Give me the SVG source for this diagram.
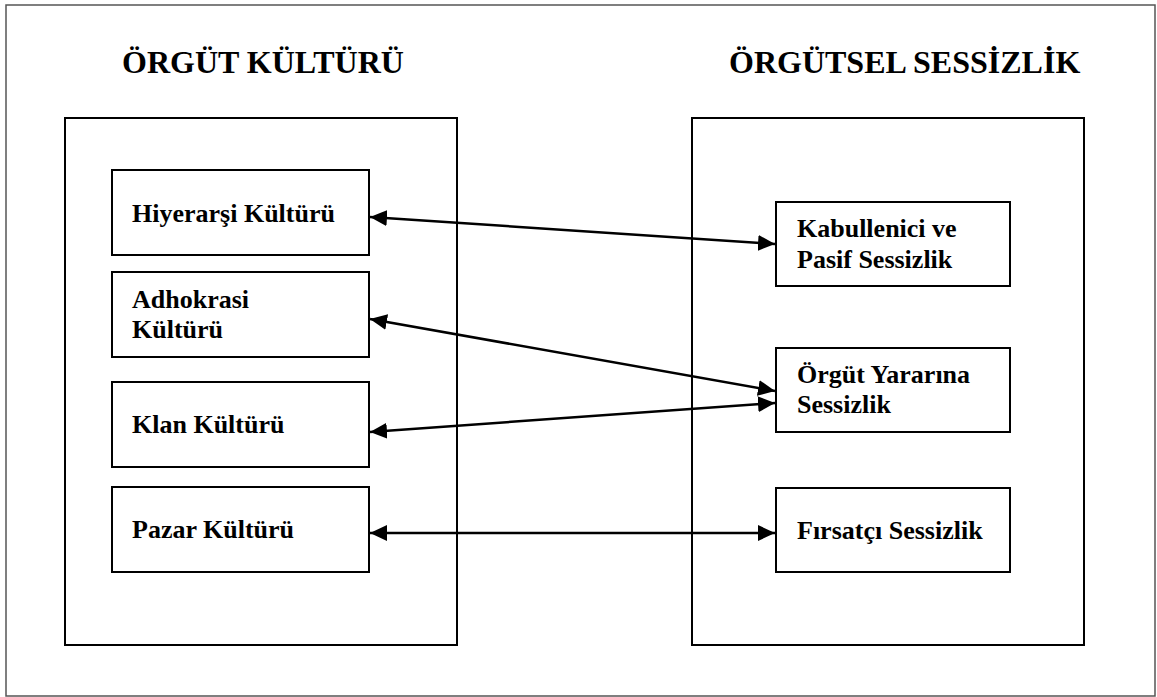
<svg xmlns="http://www.w3.org/2000/svg" width="1157" height="697" viewBox="0 0 1157 697">
  <style>
    .frame { fill: #ffffff; stroke: #555555; stroke-width: 1.5; }
    .box { fill: #ffffff; stroke: #000000; stroke-width: 2; }
    .title { font-family: "Liberation Serif", "Times New Roman", serif; font-weight: bold; font-size: 32px; fill: #000000; }
    .label { font-family: "Liberation Serif", "Times New Roman", serif; font-weight: bold; font-size: 26px; fill: #000000; }
    .link { fill: none; stroke: #000000; stroke-width: 2.5; marker-start: url(#head); marker-end: url(#head); }
  </style>
  <defs>
    <marker id="head" viewBox="0 0 17 16" refX="17" refY="8" markerWidth="17" markerHeight="16" markerUnits="userSpaceOnUse" orient="auto-start-reverse">
      <path d="M0,0 L17,8 L0,16 Z" fill="#000000"/>
    </marker>
  </defs>

  <!-- outer page frame -->
  <rect class="frame" x="6" y="5" width="1149" height="691"/>

  <!-- left column: organisational culture -->
  <g id="culture">
    <text class="title" x="122" y="73">ÖRGÜT KÜLTÜRÜ</text>
    <rect class="box" x="65" y="118" width="392" height="527"/>
  </g>
  <g id="hiyerarsi">
    <rect class="box" x="112" y="170" width="257" height="85"/>
    <text class="label" x="132" y="222">Hiyerarşi Kültürü</text>
  </g>
  <g id="adhokrasi">
    <rect class="box" x="112" y="272" width="257" height="85"/>
    <text class="label" x="132" y="308">Adhokrasi</text>
    <text class="label" x="132" y="338">Kültürü</text>
  </g>
  <g id="klan">
    <rect class="box" x="112" y="382" width="257" height="85"/>
    <text class="label" x="132" y="433">Klan Kültürü</text>
  </g>
  <g id="pazar">
    <rect class="box" x="112" y="487" width="257" height="85"/>
    <text class="label" x="132" y="538">Pazar Kültürü</text>
  </g>

  <!-- right column: organisational silence -->
  <g id="silence">
    <text class="title" x="729" y="73">ÖRGÜTSEL SESSİZLİK</text>
    <rect class="box" x="692" y="118" width="392" height="527"/>
  </g>
  <g id="kabullenici">
    <rect class="box" x="776" y="202" width="234" height="84"/>
    <text class="label" x="797" y="237">Kabullenici ve</text>
    <text class="label" x="797" y="268">Pasif Sessizlik</text>
  </g>
  <g id="orgut-yararina">
    <rect class="box" x="776" y="348" width="234" height="84"/>
    <text class="label" x="797" y="383">Örgüt Yararına</text>
    <text class="label" x="797" y="413">Sessizlik</text>
  </g>
  <g id="firsatci">
    <rect class="box" x="776" y="488" width="234" height="84"/>
    <text class="label" x="797" y="539">Fırsatçı Sessizlik</text>
  </g>

  <!-- two-way connectors -->
  <g id="connectors">
    <line class="link" x1="370" y1="217" x2="775" y2="244"/>
    <line class="link" x1="370" y1="319" x2="775" y2="391"/>
    <line class="link" x1="370" y1="432" x2="775" y2="403"/>
    <line class="link" x1="370" y1="533" x2="775" y2="533"/>
  </g>
</svg>
